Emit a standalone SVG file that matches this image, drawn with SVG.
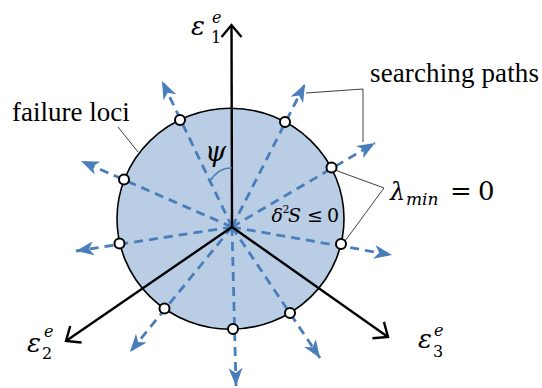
<svg xmlns="http://www.w3.org/2000/svg" width="542" height="388" viewBox="0 0 542 388">
<style>
.txt{font-family:"Liberation Serif","Times New Roman",serif;font-size:27px;fill:#000}
.math{font-family:"DejaVu Serif","Liberation Serif",serif;font-style:italic;fill:#000}
.up{font-style:normal}
.path{stroke:#4a7ebb;stroke-width:2.8;stroke-dasharray:9 6;fill:none}
.axis{stroke:#000;stroke-width:2.4;fill:none}
.lead{stroke:#404040;stroke-width:1;fill:none}
.pt{fill:#fff;stroke:#000;stroke-width:2}
</style>
<defs>
<marker id="blueHead" markerUnits="userSpaceOnUse" markerWidth="20" markerHeight="16" viewBox="-18 -8 20 16" refX="0" refY="0" orient="auto" overflow="visible">
<path d="M0,0 L-18,-7 L-13,0 L-18,7 Z" fill="#4a7ebb"/>
</marker>
<marker id="openHead" markerUnits="userSpaceOnUse" markerWidth="16" markerHeight="22" viewBox="-14 -11 16 22" refX="0" refY="0" orient="auto" overflow="visible">
<path d="M-12,-10 L0,0 L-12,10" fill="none" stroke="#000" stroke-width="2.4" stroke-linejoin="miter"/>
</marker>
</defs>

<g id="region">
<ellipse cx="230.5" cy="218.7" rx="113.5" ry="110.5" fill="#b9cde5"/>
</g>

<g id="connectors">
<line class="path" x1="232" y1="227" x2="81" y2="161" marker-end="url(#blueHead)"/>
<line class="path" x1="232" y1="227" x2="162" y2="81" marker-end="url(#blueHead)"/>
<line class="path" x1="232" y1="227" x2="305" y2="84" marker-end="url(#blueHead)"/>
<line class="path" x1="232" y1="227" x2="375" y2="143" marker-end="url(#blueHead)"/>
<line class="path" x1="232" y1="227" x2="392" y2="255" marker-end="url(#blueHead)"/>
<line class="path" x1="232" y1="227" x2="320" y2="358" marker-end="url(#blueHead)"/>
<line class="path" x1="232" y1="227" x2="236" y2="386" marker-end="url(#blueHead)"/>
<line class="path" x1="232" y1="227" x2="130" y2="352" marker-end="url(#blueHead)"/>
<line class="path" x1="232" y1="227" x2="76" y2="251" marker-end="url(#blueHead)"/>
<line class="axis" x1="232" y1="227" x2="231.5" y2="25" marker-end="url(#openHead)"/>
<line class="axis" x1="232" y1="227" x2="66" y2="341" marker-end="url(#openHead)"/>
<line class="axis" x1="232" y1="227" x2="388" y2="337" marker-end="url(#openHead)"/>
<path d="M210,181 Q219,167 232,168" fill="none" stroke="#4a7ebb" stroke-width="1.6"/>
<line class="lead" x1="118" y1="127" x2="138" y2="152"/>
<polyline class="lead" points="306,93 363,89 363,142"/>
<polyline class="lead" points="335,170 384,188 345,241"/>
</g>

<g id="outline">
<ellipse cx="230.5" cy="218.7" rx="113.5" ry="110.5" fill="none" stroke="#000" stroke-width="1.6"/>
</g>

<g id="failure-points">
<circle class="pt" cx="124" cy="179.5" r="5"/>
<circle class="pt" cx="180" cy="120" r="5"/>
<circle class="pt" cx="285" cy="122" r="5"/>
<circle class="pt" cx="331.5" cy="167.5" r="5"/>
<circle class="pt" cx="341" cy="244" r="5"/>
<circle class="pt" cx="290" cy="313" r="5"/>
<circle class="pt" cx="233" cy="329" r="5"/>
<circle class="pt" cx="164.5" cy="308.5" r="5"/>
<circle class="pt" cx="119.5" cy="243.6" r="5"/>
</g>

<g id="label-e1">
<text class="math" x="191" y="35" font-size="26">ε</text>
<text class="math up" x="211" y="43" font-size="16">1</text>
<text class="math" x="212" y="23" font-size="16">e</text>
</g>
<g id="label-e2">
<text class="math" x="27" y="352" font-size="26">ε</text>
<text class="math up" x="42" y="359" font-size="16">2</text>
<text class="math" x="44" y="337" font-size="16">e</text>
</g>
<g id="label-e3">
<text class="math" x="418" y="348" font-size="26">ε</text>
<text class="math up" x="433" y="357" font-size="16">3</text>
<text class="math" x="434" y="336" font-size="16">e</text>
</g>
<g id="label-psi">
<text class="math" x="205" y="161" font-size="27">ψ</text>
</g>
<g id="label-d2s">
<text class="math" x="271.5" y="221.7" font-size="19">δ</text>
<text class="math up" x="282.5" y="213" font-size="11">2</text>
<text class="math" x="288" y="221.7" font-size="19">S</text>
<text class="math up" x="307" y="221.7" font-size="19">≤</text>
<text class="math up" x="327" y="221.7" font-size="19">0</text>
</g>
<g id="label-lambda">
<text class="math" x="390" y="200" font-size="24">λ</text>
<text class="math" x="406" y="205" font-size="17">min</text>
<text class="math up" x="450" y="200" font-size="26">=</text>
<text class="math up" x="478" y="200" font-size="26">0</text>
</g>
<g id="label-failure">
<text class="txt" x="12" y="120.5">failure loci</text>
</g>
<g id="label-search">
<text class="txt" x="370" y="82" textLength="169" lengthAdjust="spacing">searching paths</text>
</g>
</svg>
